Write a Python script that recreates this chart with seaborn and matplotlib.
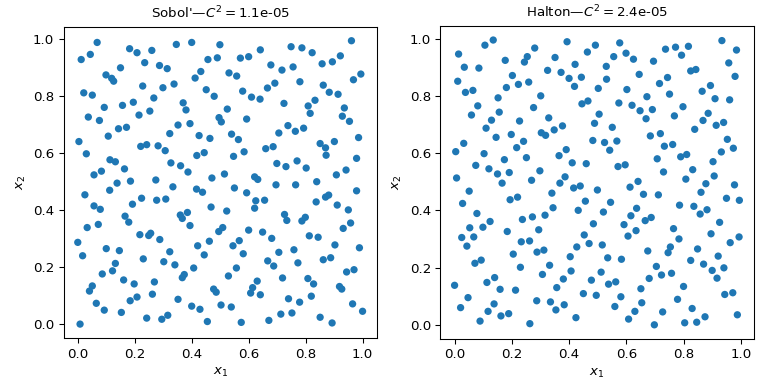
import matplotlib
matplotlib.use("Agg")
import matplotlib.pyplot as plt
import seaborn as sns
import numpy as np

# Sobol' sample
sobol_x = [
    0.068, 0.044, 0.012, 0.182, 0.208, 0.260, 0.346, 0.400, 0.499, 0.235,
    0.457, 0.490, 0.287, 0.314, 0.150, 0.432, 0.412, 0.099, 0.119, 0.126,
    0.228, 0.299, 0.338, 0.451, 0.479, 0.021, 0.051, 0.267, 0.195, 0.157,
    0.093, 0.370, 0.380, 0.253, 0.215, 0.037, 0.076, 0.496, 0.504, 0.352,
    0.394, 0.143, 0.171,
    0.749, 0.787, 0.823, 0.641, 0.961, 0.571, 0.600, 0.922, 0.894, 0.858,
    0.678, 0.717, 0.756, 0.531, 0.558, 0.994, 0.968, 0.780, 0.692, 0.666,
    0.862, 0.883, 0.914, 0.579, 0.610, 0.640, 0.724, 0.833, 0.809, 0.816,
    0.936, 0.929, 0.954, 0.525, 0.593, 0.738, 0.793, 0.764,
    0.107, 0.323, 0.426, 0.464, 0.004, 0.030, 0.221, 0.242, 0.282, 0.307,
    0.113, 0.132, 0.164, 0.327, 0.361, 0.387, 0.418, 0.444, 0.057, 0.083,
    0.471, 0.138, 0.112, 0.185, 0.274, 0.334, 0.417, 0.438, 0.025, 0.057,
    0.079, 0.192, 0.224, 0.277, 0.309, 0.166, 0.179, 0.360, 0.367, 0.385,
    0.468, 0.033, 0.072, 0.394, 0.218, 0.256, 0.495, 0.509,
    0.540, 0.564, 0.706, 0.986, 0.851, 0.870, 0.872, 0.901, 0.660, 0.686,
    0.547, 0.584, 0.699, 0.731, 0.770, 0.802, 0.979, 0.515, 0.621, 0.632,
    0.942, 0.908, 0.696, 0.765, 0.839, 0.550, 0.593, 0.625, 0.656, 0.621,
    0.979, 0.837, 0.870, 0.881, 0.911, 0.950, 0.523, 0.726, 0.734, 0.787,
    0.799, 0.958, 0.932, 0.600, 0.649,
    0.249, 0.288, 0.000, 0.462, 0.017, 0.100, 0.146, 0.230, 0.302, 0.323,
    0.341, 0.407, 0.421, 0.444, 0.122, 0.132, 0.086, 0.161, 0.198, 0.269,
    0.367, 0.374, 0.041, 0.051, 0.065, 0.093, 0.153, 0.184, 0.208, 0.262,
    0.352, 0.400, 0.429, 0.455, 0.477, 0.486, 0.503, 0.242, 0.295, 0.316,
    0.008,
    0.681, 0.813, 0.844, 0.567, 0.545, 0.581, 0.706, 0.759, 0.773, 0.667,
    0.688, 0.557, 0.529, 0.719, 0.630, 0.614, 0.607, 0.641, 0.808, 0.828,
    0.820, 0.862, 0.888, 0.903, 0.989, 0.944, 0.970, 0.919, 0.927, 0.740,
    0.779, 0.965, 1.000, 0.539, 0.574, 0.671, 0.713, 0.752, 0.851, 0.893,
]
sobol_y = [
    0.989, 0.947, 0.929, 0.967, 0.953, 0.961, 0.982, 0.989, 0.981, 0.918,
    0.929, 0.935, 0.908, 0.897, 0.900, 0.887, 0.864, 0.875, 0.863, 0.853,
    0.836, 0.830, 0.843, 0.823, 0.800, 0.812, 0.804, 0.794, 0.779, 0.768,
    0.761, 0.777, 0.752, 0.748, 0.734, 0.727, 0.715, 0.725, 0.710, 0.699,
    0.704, 0.686, 0.691,
    0.974, 0.970, 0.953, 0.963, 0.995, 0.934, 0.939, 0.942, 0.921, 0.914,
    0.910, 0.892, 0.903, 0.882, 0.871, 0.878, 0.858, 0.851, 0.846, 0.829,
    0.839, 0.814, 0.807, 0.818, 0.797, 0.790, 0.775, 0.786, 0.766, 0.740,
    0.759, 0.730, 0.712, 0.755, 0.720, 0.697, 0.688, 0.677,
    0.660, 0.669, 0.662, 0.652, 0.641, 0.598, 0.624, 0.630, 0.626, 0.609,
    0.577, 0.570, 0.545, 0.566, 0.556, 0.534, 0.592, 0.602, 0.524, 0.537,
    0.513, 0.495, 0.470, 0.502, 0.506, 0.482, 0.474, 0.463, 0.454, 0.415,
    0.403, 0.421, 0.442, 0.435, 0.439, 0.379, 0.358, 0.383, 0.371, 0.392,
    0.411, 0.339, 0.350, 0.346, 0.314, 0.319, 0.325, 0.339,
    0.667, 0.648, 0.671, 0.655, 0.634, 0.619, 0.593, 0.641, 0.616, 0.623,
    0.589, 0.605, 0.564, 0.553, 0.573, 0.548, 0.582, 0.527, 0.517, 0.508,
    0.541, 0.524, 0.489, 0.489, 0.500, 0.478, 0.461, 0.433, 0.435, 0.407,
    0.468, 0.429, 0.446, 0.453, 0.418, 0.401, 0.397, 0.385, 0.364, 0.362,
    0.375, 0.355, 0.336, 0.330, 0.323,
    0.311, 0.297, 0.287, 0.291, 0.240, 0.265, 0.258, 0.229, 0.219, 0.254,
    0.208, 0.197, 0.275, 0.243, 0.187, 0.213, 0.176, 0.155, 0.141, 0.148,
    0.163, 0.174, 0.116, 0.134, 0.073, 0.049, 0.041, 0.082, 0.095, 0.105,
    0.087, 0.063, 0.052, 0.009, 0.123, 0.112, 0.067, 0.021, 0.017, 0.031,
    0.000,
    0.301, 0.310, 0.305, 0.293, 0.275, 0.247, 0.252, 0.261, 0.215, 0.222,
    0.204, 0.197, 0.169, 0.162, 0.151, 0.128, 0.109, 0.103, 0.160, 0.141,
    0.098, 0.226, 0.233, 0.278, 0.268, 0.183, 0.191, 0.132, 0.123, 0.089,
    0.077, 0.071, 0.045, 0.060, 0.006, 0.013, 0.035, 0.039, 0.024, 0.004,
]

# Halton sample
halton_x = [
    0.014, 0.106, 0.135, 0.034, 0.085, 0.011, 0.038, 0.064, 0.177, 0.244,
    0.254, 0.280, 0.202, 0.181, 0.223, 0.259, 0.152, 0.081, 0.059, 0.156,
    0.301, 0.276, 0.329, 0.325, 0.351, 0.372, 0.393, 0.400, 0.419, 0.421,
    0.443, 0.464, 0.492, 0.502, 0.445, 0.466, 0.505, 0.489, 0.110, 0.129,
    0.227, 0.377, 0.348,
    0.530, 0.531, 0.577, 0.556, 0.599, 0.625, 0.695, 0.737, 0.772, 0.817,
    0.793, 0.825, 0.843, 0.645, 0.716, 0.744, 0.602, 0.751, 0.672, 0.934,
    0.985, 0.958, 0.980, 0.894, 0.865, 0.910, 0.961, 0.574, 0.620, 0.648,
    0.669, 0.691, 0.798, 0.768, 0.886, 0.868, 0.914, 0.940, 0.839, 0.551,
    0.145, 0.198, 0.303, 0.318, 0.004, 0.032, 0.103, 0.074, 0.174, 0.217,
    0.241, 0.251, 0.120, 0.150, 0.191, 0.166, 0.007, 0.051, 0.028, 0.078,
    0.053, 0.099, 0.124, 0.184, 0.194, 0.220, 0.237, 0.272, 0.298, 0.269,
    0.294, 0.316, 0.344, 0.340, 0.365, 0.390, 0.411, 0.460, 0.483, 0.368,
    0.386, 0.416, 0.439, 0.499, 0.457, 0.432, 0.485, 0.453,
    0.684, 0.719, 0.524, 0.567, 0.542, 0.571, 0.596, 0.708, 0.733, 0.762,
    0.790, 0.811, 0.730, 0.832, 0.808, 0.953, 0.974, 0.932, 0.903, 0.907,
    0.878, 0.861, 0.978, 0.950, 0.995, 0.613, 0.641, 0.660, 0.712, 0.545,
    0.520, 0.592, 0.616, 0.636, 0.666, 0.687, 0.786, 0.836, 0.858, 0.882,
    0.926, 0.765, 0.634, 0.896,
    0.025, 0.067, 0.043, 0.233, 0.262, 0.470, 0.427, 0.071, 0.093, 0.205,
    0.230, 0.288, 0.312, 0.404, 0.332, 0.307, 0.407, 0.380, 0.357, 0.000,
    0.047, 0.021, 0.113, 0.140, 0.159, 0.213, 0.138, 0.117, 0.089, 0.162,
    0.189, 0.263, 0.287, 0.335, 0.354, 0.383, 0.450, 0.478, 0.495, 0.424,
    0.606, 0.784, 0.994, 0.963, 0.516, 0.535, 0.583, 0.675, 0.746, 0.754,
    0.705, 0.723, 0.758, 0.680, 0.512, 0.538, 0.563, 0.581, 0.560, 0.651,
    0.654, 0.630, 0.608, 0.698, 0.727, 0.779, 0.800, 0.825, 0.849, 0.870,
    0.900, 0.921, 0.941, 0.917, 0.944, 0.972, 0.830, 0.846, 0.875, 0.804,
    0.988,
]
halton_y = [
    0.946, 0.977, 0.995, 0.900, 0.897, 0.851, 0.812, 0.819, 0.924, 0.918,
    0.937, 0.967, 0.871, 0.829, 0.840, 0.848, 0.793, 0.765, 0.733, 0.743,
    0.800, 0.759, 0.723, 0.889, 0.934, 0.882, 0.989, 0.861, 0.833, 0.910,
    0.865, 0.953, 0.977, 0.826, 0.772, 0.782, 0.736, 0.704, 0.687, 0.715,
    0.712, 0.695, 0.681,
    0.903, 0.858, 0.985, 0.937, 0.949, 0.928, 0.921, 0.963, 0.970, 0.973,
    0.942, 0.887, 0.892, 0.875, 0.843, 0.864, 0.822, 0.806, 0.797, 0.993,
    0.960, 0.915, 0.868, 0.836, 0.816, 0.790, 0.786, 0.775, 0.767, 0.748,
    0.720, 0.752, 0.762, 0.730, 0.739, 0.714, 0.697, 0.707, 0.683, 0.690,
    0.655, 0.665, 0.671, 0.662, 0.605, 0.634, 0.598, 0.557, 0.577, 0.619,
    0.641, 0.584, 0.545, 0.527, 0.532, 0.495, 0.513, 0.467, 0.424, 0.389,
    0.339, 0.341, 0.361, 0.326, 0.437, 0.446, 0.368, 0.377, 0.538, 0.505,
    0.332, 0.383, 0.409, 0.460, 0.591, 0.612, 0.566, 0.563, 0.644, 0.495,
    0.517, 0.478, 0.485, 0.471, 0.432, 0.400, 0.353, 0.314,
    0.660, 0.668, 0.637, 0.642, 0.610, 0.553, 0.559, 0.580, 0.624, 0.630,
    0.587, 0.595, 0.534, 0.542, 0.509, 0.648, 0.617, 0.604, 0.570, 0.520,
    0.493, 0.463, 0.489, 0.442, 0.435, 0.481, 0.501, 0.456, 0.454, 0.428,
    0.394, 0.350, 0.381, 0.407, 0.364, 0.375, 0.418, 0.414, 0.387, 0.402,
    0.358, 0.336, 0.329, 0.318,
    0.305, 0.307, 0.275, 0.290, 0.293, 0.284, 0.272, 0.215, 0.226, 0.247,
    0.201, 0.254, 0.261, 0.238, 0.208, 0.176, 0.188, 0.160, 0.130, 0.138,
    0.095, 0.060, 0.148, 0.165, 0.124, 0.121, 0.073, 0.047, 0.013, 0.031,
    0.039, 0.004, 0.084, 0.080, 0.052, 0.070, 0.109, 0.156, 0.103, 0.025,
    0.310, 0.300, 0.307, 0.287, 0.279, 0.234, 0.229, 0.258, 0.252, 0.272,
    0.204, 0.174, 0.180, 0.162, 0.184, 0.142, 0.150, 0.098, 0.064, 0.126,
    0.077, 0.047, 0.020, 0.000, 0.045, 0.089, 0.134, 0.225, 0.265, 0.212,
    0.190, 0.240, 0.199, 0.163, 0.106, 0.112, 0.057, 0.009, 0.028, 0.007,
    0.035,
]

kinds = ["Sobol'", "Halton"]
discrepancy = ["1.1e-05", "2.4e-05"]
samples = [(sobol_x, sobol_y), (halton_x, halton_y)]

fig, axs = plt.subplots(1, 2, figsize=(8, 4), dpi=96)
for ax, kind, disc, (xs, ys) in zip(axs, kinds, discrepancy, samples):
    sns.scatterplot(x=xs, y=ys, ax=ax, color="#1f77b4", s=30,
                    linewidth=0, edgecolor="none")
    ax.set_aspect('equal')
    ax.set_xlabel(r'$x_1$')
    ax.set_ylabel(r'$x_2$')
    ax.set_title(f'{kind}—$C^2 = ${disc}', fontsize=10)
plt.tight_layout()
fig.savefig("out.png", dpi=96)
